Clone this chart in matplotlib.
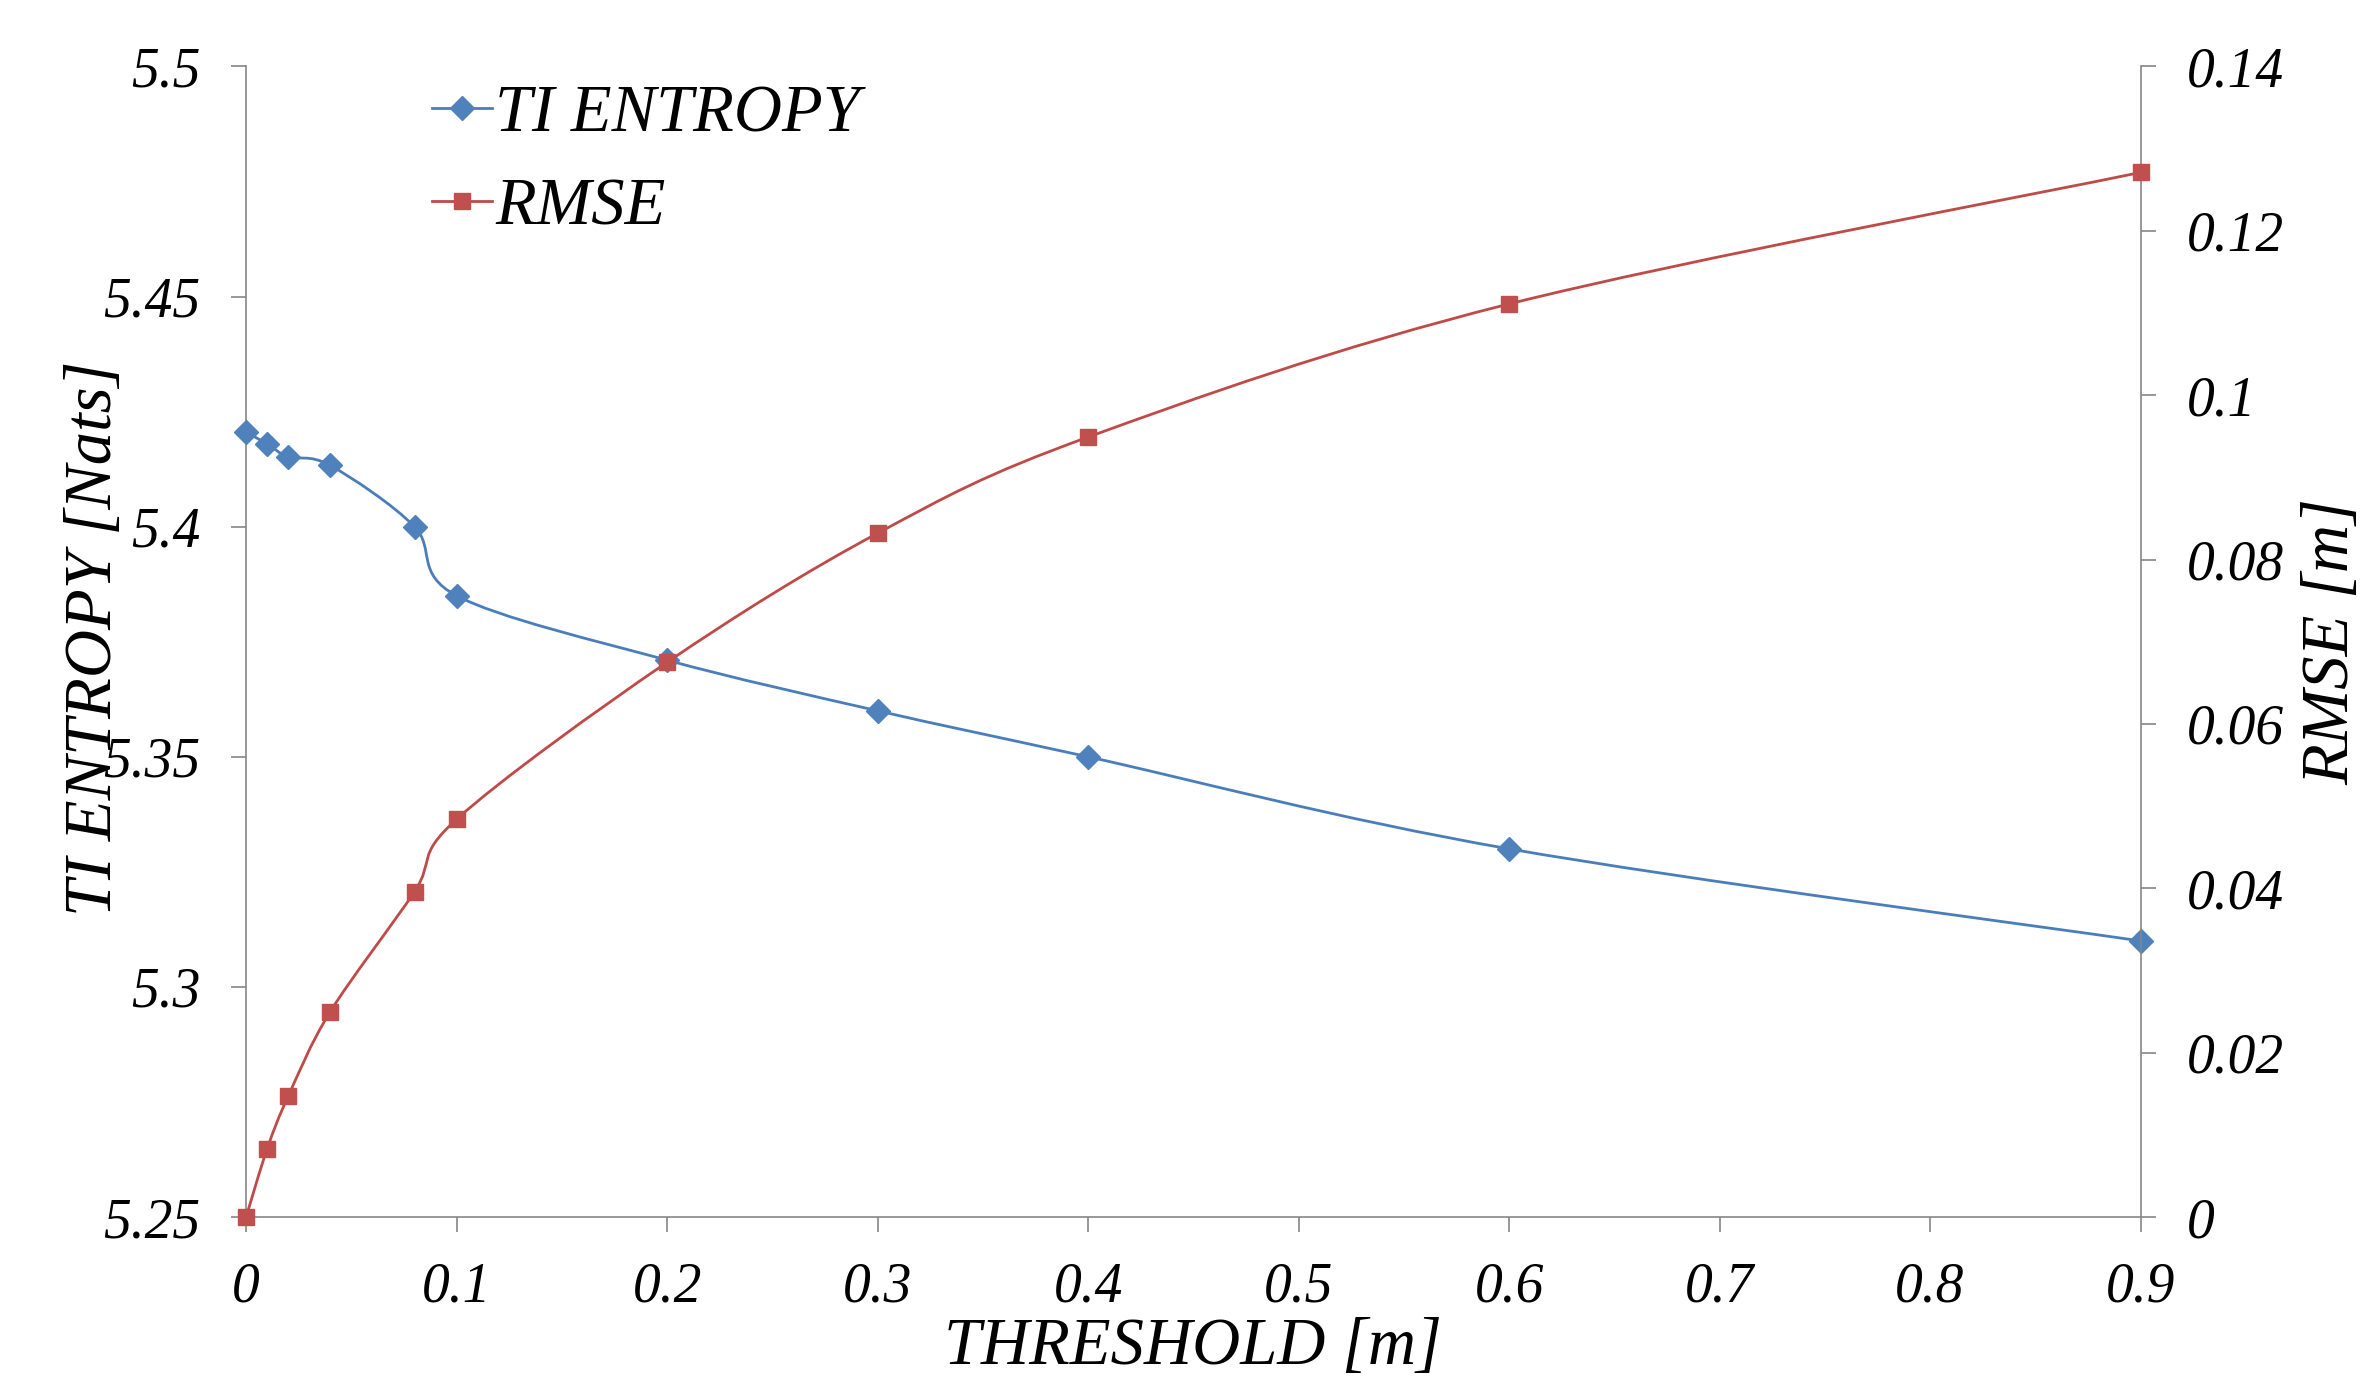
import matplotlib
matplotlib.use("Agg")
import matplotlib.pyplot as plt
from matplotlib.path import Path
from matplotlib.patches import PathPatch
from matplotlib.lines import Line2D
from matplotlib.ticker import FuncFormatter, MultipleLocator

# data
threshold = [0, 0.01, 0.02, 0.04, 0.08, 0.1, 0.2, 0.3, 0.4, 0.6, 0.9]
entropy = [5.4205, 5.418, 5.4152, 5.4133, 5.400, 5.385, 5.371, 5.360, 5.350, 5.330, 5.310]
rmse = [0.0, 0.0083, 0.0147, 0.0250, 0.0396, 0.0484, 0.0675, 0.0832, 0.0949, 0.1111, 0.1271]

BLUE = "#4A7EBB"
BLUE_M = "#4F81BD"
RED = "#BE4B48"
RED_M = "#C0504D"
GRAY = "#868686"

plt.rcParams["font.family"] = ["Liberation Serif", "DejaVu Serif"]
plt.rcParams["font.style"] = "italic"


def smooth_path(xs, ys):
    """Excel-like smoothed line: cubic Bezier through the points."""
    pts = list(zip(xs, ys))
    n = len(pts)
    verts = [pts[0]]
    codes = [Path.MOVETO]
    for i in range(n - 1):
        p0 = pts[i - 1] if i > 0 else pts[i]
        p1 = pts[i]
        p2 = pts[i + 1]
        p3 = pts[i + 2] if i + 2 < n else pts[i + 1]
        c1 = (p1[0] + (p2[0] - p0[0]) / 6, p1[1] + (p2[1] - p0[1]) / 6)
        c2 = (p2[0] - (p3[0] - p1[0]) / 6, p2[1] - (p3[1] - p1[1]) / 6)
        verts += [c1, c2, p2]
        codes += [Path.CURVE4] * 3
    return Path(verts, codes)


fig = plt.figure(figsize=(23.71, 13.78), dpi=100)
ax = fig.add_axes([0.1038, 0.1168, 0.799, 0.835])
ax2 = ax.twinx()

fmt = FuncFormatter(lambda v, p: f"{v:g}")

ax.add_patch(PathPatch(smooth_path(threshold, entropy), facecolor="none",
                       edgecolor=BLUE, lw=2.0, zorder=2))
ax.plot(threshold, entropy, ls="none", marker="D", ms=12, color=BLUE_M,
        clip_on=False, zorder=3)
ax2.add_patch(PathPatch(smooth_path(threshold, rmse), facecolor="none",
                        edgecolor=RED, lw=2.0, zorder=2))
ax2.plot(threshold, rmse, ls="none", marker="s", ms=11, color=RED_M,
         clip_on=False, zorder=3)

ax.set_xlim(0, 0.9)
ax.set_ylim(5.25, 5.5)
ax2.set_ylim(0, 0.14)
ax.xaxis.set_major_locator(MultipleLocator(0.1))
ax.yaxis.set_major_locator(MultipleLocator(0.05))
ax2.yaxis.set_major_locator(MultipleLocator(0.02))
for a in (ax, ax2):
    a.xaxis.set_major_formatter(fmt)
    a.yaxis.set_major_formatter(fmt)
    for s in a.spines.values():
        s.set_color(GRAY)
        s.set_linewidth(1.2)
    a.spines["top"].set_visible(False)
    a.tick_params(length=11, width=1.2, color=GRAY, labelsize=40, pad=22)
    a.set_facecolor("none")
ax.spines["right"].set_visible(False)
ax2.spines["left"].set_visible(False)
ax2.spines["bottom"].set_visible(False)
ax.tick_params(axis="x", pad=21)

ax.set_xlabel("THRESHOLD [m]", fontsize=48, va="center")
ax.xaxis.set_label_coords(0.5, -0.113)
ax.set_ylabel("TI ENTROPY [Nats]", fontsize=48, va="center")
ax.yaxis.set_label_coords(-0.080, 0.503)
ax2.set_ylabel("RMSE [m]", fontsize=48, va="center", rotation=90)
ax2.yaxis.set_label_coords(1.101, 0.5)

handles = [
    Line2D([], [], color=BLUE, lw=2.0, marker="D", ms=12, mfc=BLUE_M, mec=BLUE_M),
    Line2D([], [], color=RED, lw=2.0, marker="s", ms=11, mfc=RED_M, mec=RED_M),
]
ax2.legend(handles, ["TI ENTROPY", "RMSE"], loc="upper left",
           bbox_to_anchor=(0.098, 0.984), frameon=False, fontsize=48,
           handlelength=0.9, handletextpad=0.05, labelspacing=0.48,
           borderpad=0, borderaxespad=0)

fig.savefig("out.png", dpi=100)
